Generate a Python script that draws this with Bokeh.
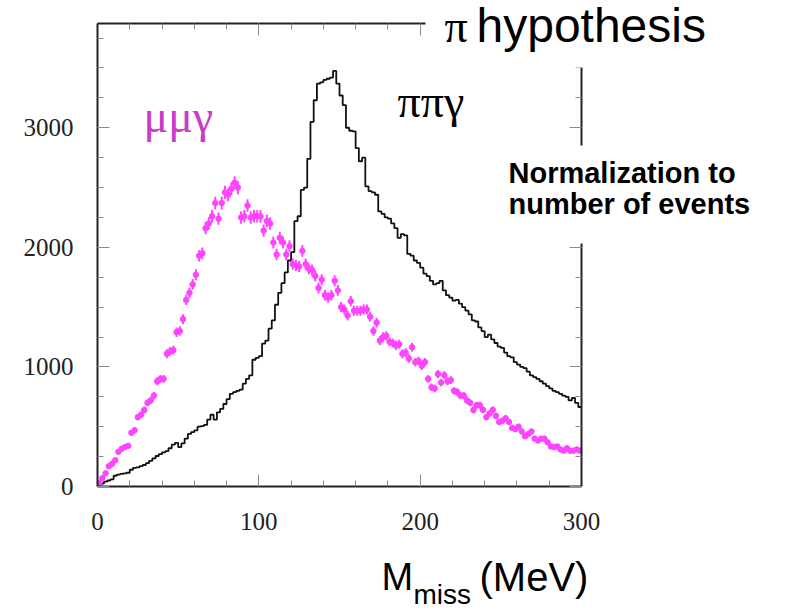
import numpy as np
from bokeh.plotting import figure
from bokeh.models import LinearAxis, FixedTicker, Range1d
from bokeh.core.properties import value
from bokeh.embed import file_html
from bokeh.resources import INLINE

# ---------------- data ----------------
bin_width = 2          # MeV
x_max = 300
y_max = 3872

# pi pi gamma histogram (black), 2 MeV bins from 0 to 300
pipig_counts = [
    10, 25, 40, 50, 60, 90, 100, 105, 110, 115,
    140, 155, 160, 170, 180, 195, 215, 235, 255, 270,
    285, 295, 320, 350, 365, 330, 360, 400, 440, 455,
    470, 500, 505, 515, 560, 600, 560, 620, 650, 690,
    730, 775, 790, 800, 810, 860, 900, 930, 1060, 1075,
    1090, 1195, 1220, 1320, 1390, 1520, 1620, 1700, 1790, 1890,
    1960, 2220, 2260, 2480, 2500, 2740, 3050, 3230, 3370, 3380,
    3400, 3410, 3420, 3475, 3370, 3270, 3190, 3000, 2975, 2970,
    2830, 2720, 2750, 2510, 2470, 2460, 2440, 2300, 2280, 2250,
    2240, 2200, 2160, 2080, 2110, 2100, 1945, 1930, 1890, 1870,
    1830, 1780, 1760, 1720, 1690, 1700, 1720, 1640, 1600, 1580,
    1555, 1560, 1530, 1500, 1470, 1440, 1390, 1380, 1330, 1300,
    1250, 1270, 1230, 1200, 1170, 1160, 1120, 1090, 1080, 1040,
    1020, 1000, 990, 960, 930, 915, 900, 880, 860, 840,
    820, 800, 790, 775, 760, 750, 720, 740, 700, 665,
]

# mu mu gamma points (magenta), same binning
mumug_counts = [
    30, 70, 110, 170, 190, 220, 290, 315, 330, 340,
    450, 470, 580, 600, 640, 700, 720, 760, 880, 900,
    900, 1110, 1130, 1140, 1290, 1300, 1400, 1560, 1620, 1690,
    1770, 1930, 1950, 2160, 2200, 2260, 2370, 2240, 2370, 2460,
    2440, 2490, 2540, 2500, 2250, 2260, 2350, 2250, 2260, 2260,
    2260, 2140, 2220, 2200, 2040, 1940, 2080, 2040, 1940, 2010,
    1860, 1850, 1840, 1970, 1860, 1820, 1810, 1760, 1660, 1730,
    1600, 1580, 1600, 1720, 1640, 1500, 1480, 1430, 1550, 1470,
    1470, 1470, 1480, 1480, 1420, 1300, 1370, 1220, 1250, 1260,
    1210, 1200, 1180, 1190, 1110, 1120, 1070, 1165, 1040, 1050,
    1010, 1040, 900, 830, 820, 940, 870, 930, 880, 890,
    800, 790, 760, 760, 720, 700, 640, 680, 680, 640,
    580, 610, 640, 590, 540, 550, 570, 540, 490, 480,
    500, 460, 420, 440, 460, 400, 385, 400, 400, 370,
    335, 330, 335, 310, 300, 320, 300, 300, 310, 300,
]

mumug_errors = [
    6, 9, 12, 14, 15, 16, 19, 20, 20, 20,
    23, 24, 26, 27, 28, 29, 30, 30, 33, 33,
    33, 37, 37, 37, 40, 40, 41, 43, 44, 45,
    46, 48, 49, 51, 52, 52, 54, 52, 54, 55,
    54, 55, 55, 55, 52, 52, 53, 52, 52, 52,
    52, 51, 52, 52, 50, 48, 50, 50, 48, 49,
    47, 47, 47, 49, 47, 47, 47, 46, 45, 46,
    44, 44, 44, 46, 45, 43, 42, 42, 43, 42,
    42, 42, 42, 42, 41, 40, 41, 38, 39, 39,
    38, 38, 38, 38, 37, 37, 36, 38, 35, 36,
    35, 35, 33, 32, 31, 34, 32, 34, 33, 33,
    31, 31, 30, 30, 30, 29, 28, 29, 29, 28,
    26, 27, 28, 27, 26, 26, 26, 26, 24, 24,
    25, 24, 23, 23, 24, 22, 22, 22, 22, 21,
    20, 20, 20, 19, 19, 20, 19, 19, 19, 19,
]

x_major_ticks = [0, 100, 200, 300]
y_major_ticks = [0, 1000, 2000, 3000]

# ---------------- geometry ----------------
W, H = 794, 611
FL, FT, FW, FH = 97, 23, 484, 463
FR, FB = FL + FW, FT + FH


def px2x(px):
    return (px - FL) * x_max / FW


def py2y(py):
    return (FB - py) * y_max / FH


edges = np.arange(0, x_max + bin_width, bin_width)
centers = edges[:-1] + bin_width / 2
pipig = np.array(pipig_counts, dtype=float)
mumug = np.array(mumug_counts, dtype=float)
merr = np.array(mumug_errors, dtype=float)

p = figure(width=W, height=H, x_range=Range1d(0, x_max), y_range=Range1d(0, y_max),
           output_backend="svg", toolbar_location=None,
           min_border_left=FL, min_border_right=W - FR,
           min_border_top=FT, min_border_bottom=H - FB,
           x_axis_location=None, y_axis_location=None)
p.outline_line_color = None
p.xgrid.visible = False
p.ygrid.visible = False
p.background_fill_color = "white"
p.border_fill_color = "white"

xt = FixedTicker(ticks=x_major_ticks, minor_ticks=list(range(0, x_max + 1, 20)))
yt = FixedTicker(ticks=y_major_ticks, minor_ticks=list(range(0, y_max, 250)))


def make_axis(ticker, labels):
    ax = LinearAxis(ticker=ticker)
    ax.axis_line_width = 2
    ax.axis_line_color = "#222222"
    ax.major_tick_in = 12
    ax.major_tick_out = 0
    ax.minor_tick_in = 6
    ax.minor_tick_out = 0
    ax.major_tick_line_color = "#8a8a8a"
    ax.minor_tick_line_color = "#8a8a8a"
    ax.major_tick_line_width = 1
    ax.minor_tick_line_width = 1
    ax.major_label_text_font = "Liberation Serif"
    ax.major_label_text_color = "#222222"
    ax.major_label_text_font_size = "25px"
    if not labels:
        ax.major_label_text_color = None
        ax.major_label_text_font_size = "0px"
        ax.major_label_standoff = 0
    return ax


ax_b = make_axis(xt, True)
ax_b.major_label_standoff = 26
ax_l = make_axis(yt, True)
ax_l.major_label_standoff = 24
p.add_layout(ax_b, "below")
p.add_layout(ax_l, "left")
p.add_layout(make_axis(xt, False), "above")
p.add_layout(make_axis(yt, False), "right")

# histogram (pi pi gamma)
p.step(edges, np.append(pipig, pipig[-1]), mode="after", line_color="#111111", line_width=1.8)

# points with error bars (mu mu gamma)
MAG = "#ff44ff"
p.segment(centers, mumug - merr, centers, mumug + merr, line_color=MAG, line_width=2)
p.scatter(centers, mumug, size=5.5, fill_color=MAG, line_color=MAG)


# ---------------- texts & white boxes (drawn unclipped at overlay level) ----------------
def cover(px0, px1, py0, py1):
    p.quad(left=[px2x(px0)], right=[px2x(px1)], top=[py2y(py0)], bottom=[py2y(py1)],
           fill_color="white", line_color=None, level="overlay")


def text_at(px, py, txt, font, size, color="black", style="normal"):
    # py is the wanted baseline; the renderer puts the baseline ~0.35 em lower
    py = py - 0.35 * size
    ax = min(max(px, FL + 3), FR - 3)
    ay = min(max(py, FT + 3), FB - 3)
    p.text(x=[px2x(ax)], y=[py2y(ay)], text=[txt], x_offset=px - ax, y_offset=py - ay,
           text_font=value(font), text_font_size=value(f"{size}px"), text_font_style=style,
           text_color=color, text_align="left", text_baseline="alphabetic", level="overlay")


text_at(143, 132, "μμγ", "Liberation Serif", 46, color="#c83cc8")
text_at(397, 117, "ππγ", "Liberation Serif", 46)

cover(425, 800, -5, 67)
text_at(444, 42, "π", "Liberation Serif", 46)
text_at(476, 42, "hypothesis", "Liberation Sans", 48)

cover(490, 800, 145, 243)
text_at(508, 183, "Normalization to", "Liberation Sans", 29, style="bold")
text_at(508, 214, "number of events", "Liberation Sans", 29, style="bold")

text_at(381, 590, "M", "Liberation Sans", 38)
text_at(413, 604, "miss", "Liberation Sans", 28)
text_at(479, 590, "(MeV)", "Liberation Sans", 40)

open("out.html", "w").write(file_html(p, INLINE))
